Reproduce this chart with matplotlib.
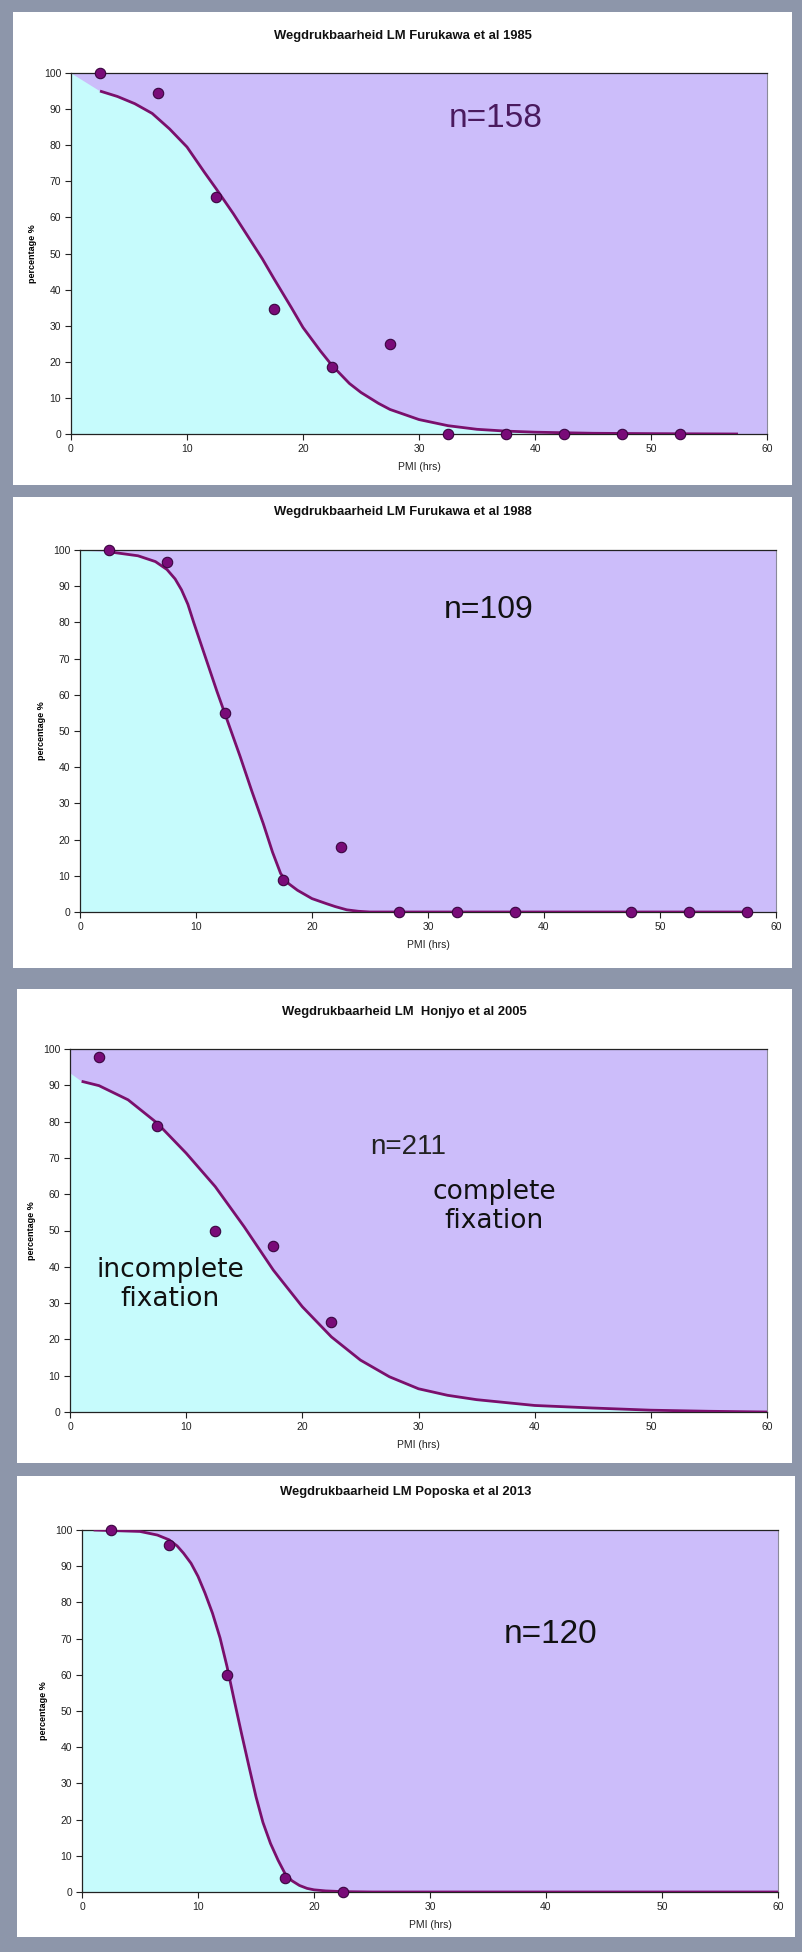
import matplotlib
matplotlib.use("Agg")
import matplotlib.pyplot as plt
from matplotlib.patches import Rectangle

plt.rcParams['font.family'] = ['Liberation Sans Narrow', 'Liberation Sans', 'DejaVu Sans']

# Study titles and sample sizes
titles = ["Wegdrukbaarheid LM Furukawa et al 1985",
          "Wegdrukbaarheid LM Furukawa et al 1988",
          "Wegdrukbaarheid LM  Honjyo et al 2005",
          "Wegdrukbaarheid LM Poposka et al 2013"]
n_labels = ["n=158", "n=109", "n=211", "n=120"]

# Observed percentages per PMI class
pmi_1985 = [2.5, 7.5, 12.5, 17.5, 22.5, 27.5, 32.5, 37.5, 42.5, 47.5, 52.5]
pct_1985 = [100, 94.5, 65.6, 34.7, 18.6, 24.8, 0, 0, 0, 0, 0]
pmi_1988 = [2.5, 7.5, 12.5, 17.5, 22.5, 27.5, 32.5, 37.5, 47.5, 52.5, 57.5]
pct_1988 = [100, 96.6, 54.9, 8.9, 17.9, 0, 0, 0, 0, 0, 0]
pmi_2005 = [2.5, 7.5, 12.5, 17.5, 22.5]
pct_2005 = [97.8, 78.7, 49.9, 45.8, 24.8]
pmi_2013 = [2.5, 7.5, 12.5, 17.5, 22.5]
pct_2013 = [100, 95.8, 59.9, 3.9, 0]

# Fitted curves
fit_x_1985 = [2.5, 4, 5.5, 7, 8.5, 10, 11.5, 12.5, 14, 15, 16.5, 17.5, 19, 20, 21.5, 22.5,
              24, 25, 26.5, 27.5, 30, 32.5, 35, 37.5, 40, 45, 50, 57.5]
fit_y_1985 = [95, 93.5, 91.5, 88.8, 84.5, 79.5, 72.5, 68, 61, 56, 48.5, 43, 35, 29.5, 23, 19,
              14, 11.5, 8.5, 6.8, 4, 2.3, 1.3, 0.8, 0.5, 0.2, 0.1, 0]
fit_x_1988 = [2.5, 5, 6.5, 7.5, 8.2, 8.75, 9.3, 9.8, 10.8, 11.8, 12.8, 13.8, 14.8, 15.8,
              16.6, 17.3, 18, 18.75, 20, 21.25, 22, 23, 24, 25, 57.5]
fit_y_1988 = [99.5, 98.4, 96.8, 94.6, 92, 89, 85, 80, 70.5, 61, 52, 43, 33.5, 24.4,
              16.5, 10.6, 7.8, 6.0, 3.7, 2.3, 1.5, 0.6, 0.2, 0, 0]
fit_x_2005 = [1, 2.5, 5, 7.5, 10, 12.5, 15, 17.5, 20, 22.5, 25, 27.5, 30, 32.5, 35, 40, 45, 50, 55, 60]
fit_y_2005 = [91.1, 89.9, 86, 79.6, 71.3, 62.1, 51, 39.1, 29, 20.7, 14.3, 9.7, 6.4, 4.6, 3.4, 1.8, 1.1, 0.5, 0.2, 0]
fit_x_2013 = [1, 5, 6.5, 7.5, 8.2, 8.75, 9.4, 10, 10.6, 11.25, 11.9, 12.5, 13.1, 13.75, 14.4,
              15, 15.6, 16.25, 16.9, 17.5, 18.1, 18.75, 19.4, 20, 21, 22.5, 25, 60]
fit_y_2013 = [100, 99.6, 98.6, 97.3, 95.6, 93.6, 90.8, 87.2, 82.6, 77, 70.2, 62.3, 53.3, 43.8, 34.6,
              26.3, 19.2, 13.4, 8.8, 5.1, 3.1, 1.8, 1.0, 0.6, 0.3, 0.1, 0, 0]

# Height of the shaded region at PMI 0
start_pct = [100, 100, 93.4, 100]

# Label positions (data units)
n_pos = [(36.6, 87.3), (35.2, 83.4), (29.1, 73), (40.4, 71)]
n_sizes = [24, 23, 20, 24]
n_colors = ["#4a1a5e", "#111111", "#222222", "#111111"]

points = [(pmi_1985, pct_1985), (pmi_1988, pct_1988), (pmi_2005, pct_2005), (pmi_2013, pct_2013)]
fits = [(fit_x_1985, fit_y_1985), (fit_x_1988, fit_y_1988), (fit_x_2005, fit_y_2005), (fit_x_2013, fit_y_2013)]

W, H = 802, 1952
fig = plt.figure(figsize=(W / 100, H / 100), dpi=100)
fig.patch.set_facecolor("#8d96aa")

# white card per chart and axes box, in pixels (left, top, right, bottom)
cards = [(13, 12, 792, 485), (13, 497, 792, 968), (17, 989, 792, 1463), (17, 1476, 795, 1937)]
boxes = [(71, 73, 767, 434), (80, 550, 776, 912), (70, 1049, 767, 1412), (82, 1530, 778, 1892)]
title_y = [36, 512, 1012, 1492]
xlabel_y = [467, 945, 1445, 1925]

cyan = "#c6fbfc"
lilac = "#ccbdfa"
curve_col = "#7a0f6c"
dot_col = "#790b78"

for i in range(4):
    l, t, r, b = cards[i]
    fig.patches.append(Rectangle((l / W, 1 - b / H), (r - l) / W, (b - t) / H,
                                 transform=fig.transFigure, facecolor="white",
                                 edgecolor="none", zorder=-5))
    al, at, ar, ab = boxes[i]
    ax = fig.add_axes([al / W, 1 - ab / H, (ar - al) / W, (ab - at) / H])
    ax.set_zorder(2)
    ax.set_facecolor(lilac)

    fx, fy = fits[i]
    fill_x = [0] + fx + ([60] if fx[-1] < 60 else [])
    fill_y = [start_pct[i]] + fy + ([0] if fx[-1] < 60 else [])
    ax.fill_between(fill_x, 0, fill_y, color=cyan, lw=0, zorder=1)
    ax.plot(fx, fy, color=curve_col, lw=2.0, zorder=3, solid_capstyle="butt",
            solid_joinstyle="round")

    px, py = points[i]
    ax.plot(px, py, "o", ms=7.5, color=dot_col, mec="#3a0540", mew=0.8, zorder=4,
            clip_on=False)

    ax.set_xlim(0, 60)
    ax.set_ylim(0, 100)
    ax.set_xticks(range(0, 61, 10))
    ax.set_yticks(range(0, 101, 10))
    ax.tick_params(direction="out", length=4, width=0.8, labelsize=7.5,
                   colors="#222222", pad=3)
    for side in ("left", "bottom", "top"):
        ax.spines[side].set_color("#222222")
        ax.spines[side].set_linewidth(0.9)
    ax.spines["right"].set_color("#8a8a9a")
    ax.spines["right"].set_linewidth(0.8)

    ax.set_ylabel("percentage %", fontsize=6.5, fontweight="bold",
                  family=["Liberation Sans", "DejaVu Sans"], labelpad=5)
    fig.text((al + ar) / 2 / W, 1 - xlabel_y[i] / H, "PMI (hrs)", fontsize=7.5,
             ha="center", va="center", color="#222222", zorder=3)
    fig.text((l + r) / 2 / W, 1 - title_y[i] / H, titles[i], fontsize=9.4,
             fontweight="bold", ha="center", va="center", color="#111111", zorder=3)

    nx, ny = n_pos[i]
    ax.text(nx, ny, n_labels[i], fontsize=n_sizes[i], ha="center", va="center",
            color=n_colors[i], family=["Liberation Sans", "DejaVu Sans"], zorder=5)

    if i == 2:
        ax.text(36.5, 56.5, "complete\nfixation", fontsize=19, ha="center", va="center",
                color="#111111", family=["DejaVu Sans"], linespacing=1.15, zorder=5)
        ax.text(8.6, 35, "incomplete\nfixation", fontsize=19, ha="center", va="center",
                color="#111111", family=["DejaVu Sans"], linespacing=1.15, zorder=5)

fig.savefig("out.png", dpi=100)
